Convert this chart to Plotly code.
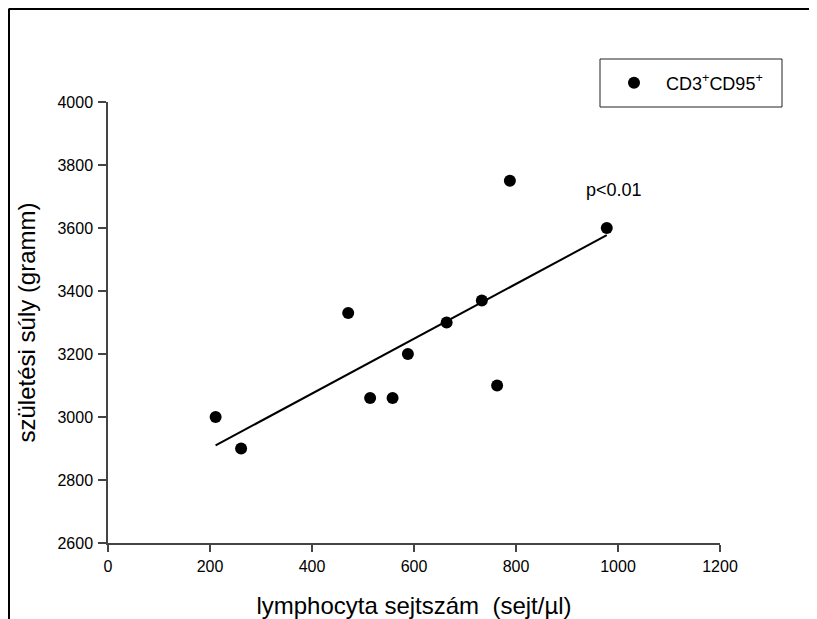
import numpy as np
import plotly.graph_objects as go

# Data
lymphocyte_count = [211, 261, 471, 514, 558, 588, 664, 733, 763, 788, 978]
birth_weight = [3000, 2900, 3330, 3060, 3060, 3200, 3300, 3370, 3100, 3750, 3600]

x_ticks = [0, 200, 400, 600, 800, 1000, 1200]
y_ticks = [2600, 2800, 3000, 3200, 3400, 3600, 3800, 4000]

series_name = "CD3<sup>+</sup>CD95<sup>+</sup>"
p_label = "p<0.01"
x_title = "lymphocyta sejtszám  (sejt/µl)"
y_title = "születési súly (gramm)"

# Linear regression line
slope, intercept = np.polyfit(lymphocyte_count, birth_weight, 1)
fit_x = [min(lymphocyte_count), max(lymphocyte_count)]
fit_y = [slope * v + intercept for v in fit_x]

# The page body has an 8px margin; the figure is sized to fill the rest
OFF = 8
W, H = 817 - OFF, 619 - OFF
# plot area in page pixels: x 108..720, y 102..543
L, R, T, B = 108 - OFF, 817 - 720, 102 - OFF, 619 - 543
PW, PH = W - L - R, H - T - B


def px_to_paper_x(px):
    return (px - OFF - L) / PW


def px_to_paper_y(py):
    return (619 - B - py) / PH


font_family = "Liberation Sans, Arial, sans-serif"

fig = go.Figure()
fig.add_trace(go.Scatter(
    x=fit_x, y=fit_y, mode="lines",
    line=dict(color="black", width=2),
    showlegend=False, hoverinfo="skip",
))
fig.add_trace(go.Scatter(
    x=lymphocyte_count, y=birth_weight, mode="markers",
    marker=dict(color="black", size=12, line=dict(width=0)),
    name=series_name,
))

fig.add_annotation(
    x=993, y=3721, xref="x", yref="y", text=p_label, showarrow=False,
    font=dict(size=18, color="black", family=font_family),
)

# Outer frame (top and left edges)
fig.add_shape(type="line", xref="paper", yref="paper",
              x0=px_to_paper_x(8.5), x1=px_to_paper_x(820),
              y0=px_to_paper_y(9), y1=px_to_paper_y(9),
              line=dict(color="black", width=2))
fig.add_shape(type="line", xref="paper", yref="paper",
              x0=px_to_paper_x(9), x1=px_to_paper_x(9),
              y0=px_to_paper_y(9), y1=px_to_paper_y(622),
              line=dict(color="black", width=2))
# Legend box
fig.add_shape(type="rect", xref="paper", yref="paper",
              x0=px_to_paper_x(600), x1=px_to_paper_x(782),
              y0=px_to_paper_y(107), y1=px_to_paper_y(59),
              line=dict(color="#222", width=1))

axis_common = dict(
    showgrid=False, zeroline=False, showline=True, linecolor="#444", linewidth=1.5,
    ticks="outside", tickcolor="#444", tickwidth=1.5,
    tickfont=dict(size=16, color="black", family=font_family),
    mirror=False, automargin=False,
)

fig.update_layout(
    width=W, height=H,
    margin=dict(l=L, r=R, t=T, b=B, autoexpand=False),
    paper_bgcolor="white", plot_bgcolor="white",
    font=dict(family=font_family, color="black"),
    xaxis=dict(range=[0, 1200], tickvals=x_ticks, ticklen=7, ticklabelstandoff=1,
               title=dict(text=x_title, font=dict(size=24), standoff=23),
               **axis_common),
    yaxis=dict(range=[2600, 4000], tickvals=y_ticks, ticklen=8, ticklabelstandoff=2,
               title=dict(text=y_title, font=dict(size=24), standoff=15),
               **axis_common),
    legend=dict(x=px_to_paper_x(602), y=px_to_paper_y(83), xanchor="left", yanchor="middle",
                bgcolor="rgba(0,0,0,0)", borderwidth=0, itemwidth=54,
                font=dict(size=18, color="black", family=font_family)),
    showlegend=True,
)

fig.write_html("out.html")
